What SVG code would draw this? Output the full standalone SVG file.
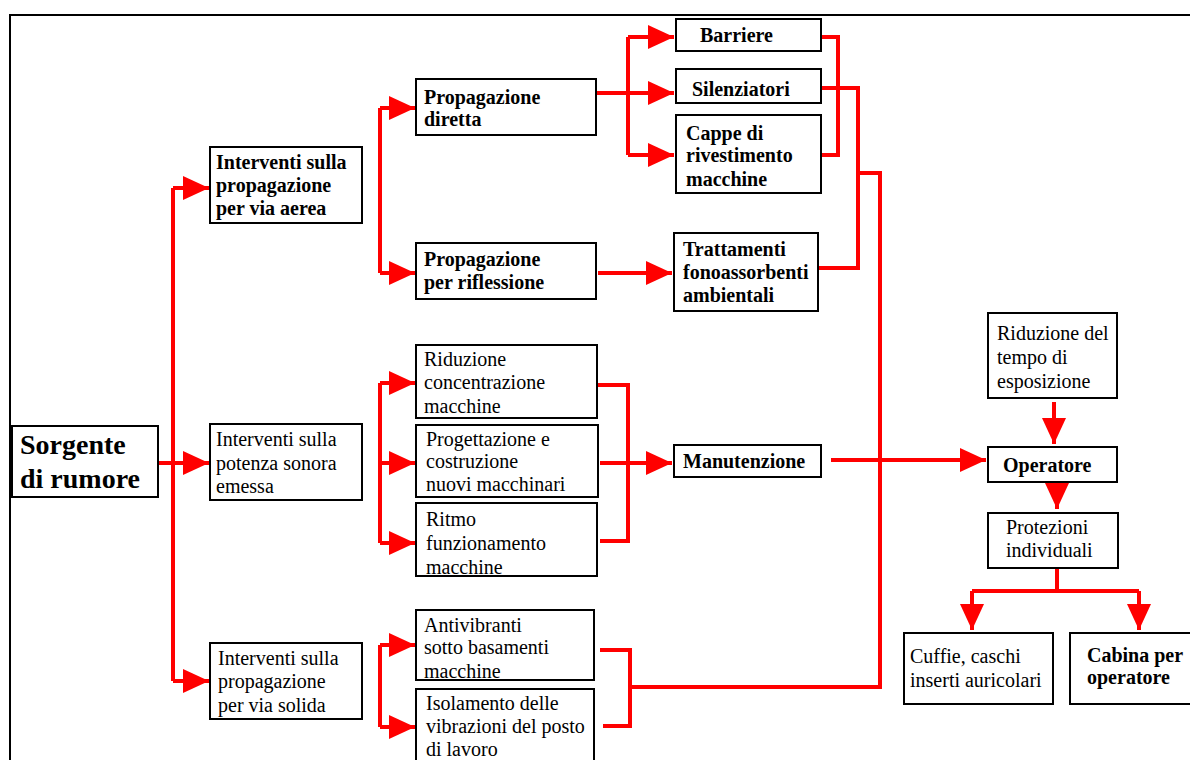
<svg xmlns="http://www.w3.org/2000/svg" width="1190" height="760" viewBox="0 0 1190 760">
<style>
.box{fill:#fff;stroke:#000;stroke-width:2}
.t{font-family:"Liberation Serif","Times New Roman",serif;font-size:20px;fill:#000}
.b{font-weight:bold}
.c{fill:none;stroke:#ff0000;stroke-width:4}
.a{marker-end:url(#ah)}
.frame{stroke:#000;stroke-width:2;fill:none}
</style>
<defs>
<marker id="ah" markerUnits="userSpaceOnUse" markerWidth="26" markerHeight="24" refX="26" refY="12" orient="auto" viewBox="0 0 26 24">
<path d="M0,0 L26,12 L0,24 z" fill="#ff0000"/>
</marker>
</defs>
<rect width="1190" height="760" fill="#fff"/>
<path class="frame" d="M10,760 V15 H1190"/>

<g id="connectors">
<path class="c" d="M173,188 V681"/>
<path class="c a" d="M173,188 H209"/>
<path class="c a" d="M173,681 H209"/>
<path class="c a" d="M158,463 H209"/>

<path class="c" d="M380,108 V273"/>
<path class="c a" d="M380,108 H415"/>
<path class="c a" d="M380,273 H415"/>

<path class="c a" d="M596,93 H674"/>
<path class="c" d="M628,37 V155"/>
<path class="c a" d="M628,37 H674"/>
<path class="c a" d="M628,155 H674"/>
<path class="c a" d="M598,273 H672"/>

<path class="c" d="M821,37 H838 V155 H822"/>
<path class="c" d="M822,88 H858 V268 H819"/>
<path class="c" d="M858,173 H880 V687 H630"/>

<path class="c" d="M380,383 V543"/>
<path class="c a" d="M380,383 H415"/>
<path class="c a" d="M380,463 H415"/>
<path class="c a" d="M380,543 H415"/>
<path class="c" d="M598,385 H628 V541 H600"/>
<path class="c a" d="M600,463 H672"/>
<path class="c a" d="M831,460 H986"/>

<path class="c" d="M380,645 V727"/>
<path class="c a" d="M380,645 H415"/>
<path class="c a" d="M380,727 H415"/>
<path class="c" d="M600,650 H630 V726 H603"/>

<path class="c a" d="M1054,402 V444"/>
<path class="c a" d="M1057,482 V509"/>
<path class="c" d="M1057,568 V591"/>
<path class="c" d="M972,591 H1139"/>
<path class="c a" d="M972,591 V630"/>
<path class="c a" d="M1139,591 V630"/>
</g>

<g id="sorgente">
<rect class="box" x="12" y="426" width="146" height="71"/>
<text class="t b" style="font-size:28px" x="20" y="454">Sorgente</text>
<text class="t b" style="font-size:28px" x="20" y="488">di rumore</text>
</g>

<g id="aerea">
<rect class="box" x="210" y="147" width="152" height="76"/>
<text class="t b" x="216" y="169">Interventi sulla</text>
<text class="t b" x="216" y="192">propagazione</text>
<text class="t b" x="216" y="215">per via aerea</text>
</g>

<g id="potenza">
<rect class="box" x="210" y="424" width="152" height="76"/>
<text class="t" x="216" y="446">Interventi sulla</text>
<text class="t" x="216" y="470">potenza sonora</text>
<text class="t" x="216" y="493">emessa</text>
</g>

<g id="solida">
<rect class="box" x="210" y="643" width="152" height="76"/>
<text class="t" x="218" y="665">Interventi sulla</text>
<text class="t" x="218" y="688">propagazione</text>
<text class="t" x="218" y="712">per via solida</text>
</g>

<g id="diretta">
<rect class="box" x="416" y="79" width="180" height="56"/>
<text class="t b" x="424" y="104">Propagazione</text>
<text class="t b" x="424" y="126">diretta</text>
</g>

<g id="riflessione">
<rect class="box" x="416" y="243" width="180" height="56"/>
<text class="t b" x="424" y="266">Propagazione</text>
<text class="t b" x="424" y="289">per riflessione</text>
</g>

<g id="barriere">
<rect class="box" x="676" y="19" width="145" height="32"/>
<text class="t b" x="700" y="42">Barriere</text>
</g>

<g id="silenziatori">
<rect class="box" x="676" y="69" width="145" height="34"/>
<text class="t b" x="692" y="96">Silenziatori</text>
</g>

<g id="cappe">
<rect class="box" x="676" y="115" width="145" height="78"/>
<text class="t b" x="686" y="140">Cappe di</text>
<text class="t b" x="686" y="162">rivestimento</text>
<text class="t b" x="686" y="186">macchine</text>
</g>

<g id="trattamenti">
<rect class="box" x="674" y="233" width="144" height="78"/>
<text class="t b" x="683" y="256">Trattamenti</text>
<text class="t b" x="683" y="279">fonoassorbenti</text>
<text class="t b" x="683" y="302">ambientali</text>
</g>

<g id="riduzione-conc">
<rect class="box" x="416" y="345" width="181" height="73"/>
<text class="t" x="424" y="366">Riduzione</text>
<text class="t" x="424" y="389">concentrazione</text>
<text class="t" x="424" y="413">macchine</text>
</g>

<g id="progettazione">
<rect class="box" x="416" y="425" width="182" height="72"/>
<text class="t" x="426" y="446">Progettazione e</text>
<text class="t" x="426" y="468">costruzione</text>
<text class="t" x="426" y="491">nuovi macchinari</text>
</g>

<g id="ritmo">
<rect class="box" x="416" y="503" width="181" height="73"/>
<text class="t" x="426" y="526">Ritmo</text>
<text class="t" x="426" y="550">funzionamento</text>
<text class="t" x="426" y="574">macchine</text>
</g>

<g id="manutenzione">
<rect class="box" x="674" y="445" width="147" height="32"/>
<text class="t b" x="683" y="468">Manutenzione</text>
</g>

<g id="antivibranti">
<rect class="box" x="416" y="610" width="178" height="70"/>
<text class="t" x="424" y="632">Antivibranti</text>
<text class="t" x="424" y="654">sotto basamenti</text>
<text class="t" x="424" y="678">macchine</text>
</g>

<g id="isolamento">
<rect class="box" x="416" y="689" width="178" height="80"/>
<text class="t" x="426" y="710">Isolamento delle</text>
<text class="t" x="426" y="733">vibrazioni del posto</text>
<text class="t" x="426" y="756">di lavoro</text>
</g>

<g id="riduzione-tempo">
<rect class="box" x="988" y="313" width="129" height="85"/>
<text class="t" x="997" y="340">Riduzione del</text>
<text class="t" x="997" y="364">tempo di</text>
<text class="t" x="997" y="388">esposizione</text>
</g>

<g id="operatore">
<rect class="box" x="988" y="447" width="129" height="35"/>
<text class="t b" x="1003" y="472">Operatore</text>
</g>

<g id="protezioni">
<rect class="box" x="988" y="513" width="130" height="55"/>
<text class="t" x="1006" y="534">Protezioni</text>
<text class="t" x="1006" y="557">individuali</text>
</g>

<g id="cuffie">
<rect class="box" x="904" y="633" width="149" height="71"/>
<text class="t" x="910" y="663">Cuffie, caschi</text>
<text class="t" x="910" y="687">inserti auricolari</text>
</g>

<g id="cabina">
<rect class="box" x="1070" y="633" width="130" height="71"/>
<text class="t b" x="1087" y="662">Cabina per</text>
<text class="t b" x="1087" y="684">operatore</text>
</g>
</svg>
